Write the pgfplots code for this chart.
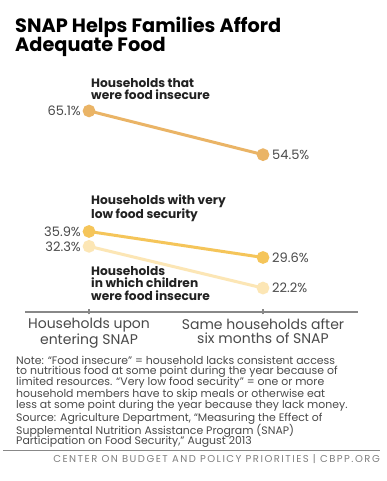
\documentclass[border=0pt]{standalone}
\usepackage{fontspec}
\setmainfont{Poppins}
\usepackage{pgfplots}
\pgfplotsset{compat=1.18}
\definecolor{cTop}{HTML}{EAB466}
\definecolor{cMid}{HTML}{F5C55A}
\definecolor{cLow}{HTML}{FCE6B5}
\definecolor{txt}{HTML}{222222}
\definecolor{gtxt}{HTML}{4A4A4A}
\definecolor{axc}{HTML}{888888}
\begin{document}
\begin{tikzpicture}
\path[fill=white] (0pt,0pt) rectangle (387pt,481pt);
% title
\node[anchor=west,font=\fontsize{19.3}{19}\selectfont\bfseries,text=black,inner sep=0pt] at (15pt,454pt) {SNAP Helps Families Afford};
\node[anchor=west,font=\fontsize{19.3}{19}\selectfont\bfseries,text=black,inner sep=0pt] at (15pt,434pt) {Adequate Food};
\begin{axis}[
  at={(25pt,169pt)}, anchor=south west,
  scale only axis, width=333pt, height=242pt,
  xmin=-0.368, xmax=1.546, ymin=16.4, ymax=75,
  axis x line=bottom, axis y line=none,
  axis line style={axc, line width=1.3pt, -},
  xtick={0,1},
  xticklabels={{Households upon\\entering SNAP},{Same households after\\six months of SNAP}},
  xticklabel style={align=center, font=\fontsize{14}{14}\selectfont, text=gtxt, yshift=-0.5pt},
  major tick length=5pt, tick align=center,
  tick style={axc, line width=1.3pt},
  clip=false,
]
\addplot[cLow, line width=3pt, mark=*, mark size=4.8pt] coordinates {(0,32.3) (1,22.2)};
\addplot[cMid, line width=3pt, mark=*, mark size=4.8pt] coordinates {(0,35.9) (1,29.6)};
\addplot[cTop, line width=3pt, mark=*, mark size=4.8pt] coordinates {(0,65.1) (1,54.5)};
\def\dl{\fontsize{13}{13}\selectfont}
\node[anchor=east,text=gtxt,font=\dl,inner sep=0pt] at ([xshift=-8pt]axis cs:0,65.1) {65.1\%};
\node[anchor=west,text=gtxt,font=\dl,inner sep=0pt] at ([xshift=9pt]axis cs:1,54.5) {54.5\%};
\node[anchor=east,text=gtxt,font=\dl,inner sep=0pt] at ([xshift=-8pt]axis cs:0,35.9) {35.9\%};
\node[anchor=east,text=gtxt,font=\dl,inner sep=0pt] at ([xshift=-8pt]axis cs:0,32.3) {32.3\%};
\node[anchor=west,text=gtxt,font=\dl,inner sep=0pt] at ([xshift=9pt]axis cs:1,29.6) {29.6\%};
\node[anchor=west,text=gtxt,font=\dl,inner sep=0pt] at ([xshift=9pt]axis cs:1,22.2) {22.2\%};
\end{axis}
% series labels
\def\sl{\fontsize{12.2}{12.5}\selectfont\bfseries}
\node[anchor=north west,align=left,font=\sl,text=txt,inner sep=0pt] at (91pt,403pt) {Households that\\were food insecure};
\node[anchor=north west,align=left,font=\sl,text=txt,inner sep=0pt] at (91pt,286pt) {Households with very\\low food security};
\node[anchor=north west,align=left,font=\sl,text=txt,inner sep=0pt] at (91pt,215pt) {Households\\in which children\\were food insecure};
% note
\def\nf{\fontsize{10.9}{11}\selectfont}
\begin{scope}[every node/.style={anchor=west,font=\nf,text=gtxt,inner sep=0pt}]
\node at (16pt,121pt) {Note: “Food insecure” = household lacks consistent access};
\node at (16pt,109.5pt) {to nutritious food at some point during the year because of};
\node at (16pt,98pt) {limited resources. “Very low food security” = one or more};
\node at (16pt,86.5pt) {household members have to skip meals or otherwise eat};
\node at (16pt,75pt) {less at some point during the year because they lack money.};
\node at (16pt,62pt) {Source: Agriculture Department, “Measuring the Effect of};
\node at (16pt,50.5pt) {Supplemental Nutrition Assistance Program (SNAP)};
\node at (16pt,39pt) {Participation on Food Security,” August 2013};
\end{scope}
\draw[axc, line width=0.8pt] (3pt,31pt) -- (380pt,31pt);
\node[anchor=east,font=\fontsize{10}{10}\selectfont\addfontfeatures{LetterSpace=15},text=gtxt!70,inner sep=0pt] at (380pt,22pt) {CENTER ON BUDGET AND POLICY PRIORITIES | CBPP.ORG};
\end{tikzpicture}
\end{document}
